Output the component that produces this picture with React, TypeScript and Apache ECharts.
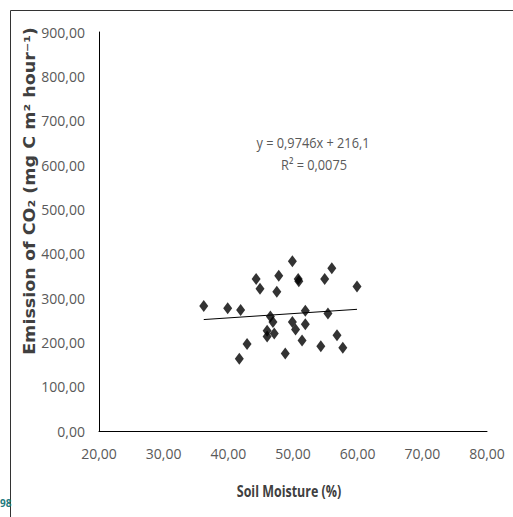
import React, { useEffect, useRef } from "react";
import * as echarts from "echarts";

const soilMoisture = [36.2, 39.9, 41.9, 44.3, 44.9, 47.8, 47.5, 49.9, 50.8, 50.9, 54.9, 56.0, 59.9, 51.9, 55.4, 46.5, 46.9, 49.9, 50.4, 51.9, 46.0, 46.0, 47.1, 51.4, 42.9, 41.7, 48.8, 54.3, 56.8, 57.7];
const co2Emission = [282, 277, 273, 343, 321, 350, 314, 383, 343, 338, 343, 367, 326, 271, 265, 258, 246, 246, 229, 241, 226, 213, 220, 204, 196, 163, 175, 191, 216, 188];
const xTicks = [20, 80, 10];
const yTicks = [0, 900, 100];
const slope = 0.9746;
const intercept = 216.1;
const equationText = "y = 0,9746x + 216,1";
const r2Text = "R² = 0,0075";

const fmt = (v: number) => v.toFixed(2).replace(".", ",");

export default function App() {
  const ref = useRef<HTMLDivElement>(null);
  useEffect(() => {
    if (!ref.current) return;
    const chart = echarts.init(ref.current, null, { renderer: "svg" });
    const pts = soilMoisture.map((x, i) => [x, co2Emission[i]]);
    const xMin = Math.min(...soilMoisture);
    const xMax = Math.max(...soilMoisture);
    const trend = [
      [xMin, slope * xMin + intercept],
      [xMax, slope * xMax + intercept],
    ];
    const font = "'Open Sans', sans-serif";
    chart.setOption({
      animation: false,
      backgroundColor: "#ffffff",
      grid: { left: 99, top: 32, right: 26, bottom: 86, containLabel: false },
      xAxis: {
        type: "value",
        min: xTicks[0],
        max: xTicks[1],
        interval: xTicks[2],
        axisLine: { show: true, lineStyle: { color: "#000", width: 1 } },
        axisTick: { show: false },
        splitLine: { show: false },
        axisLabel: { color: "#595959", fontSize: 14, fontFamily: font, margin: 15, formatter: fmt },
      },
      yAxis: {
        type: "value",
        min: yTicks[0],
        max: yTicks[1],
        interval: yTicks[2],
        axisLine: { show: true, lineStyle: { color: "#000", width: 1 } },
        axisTick: { show: false },
        splitLine: { show: false },
        axisLabel: { color: "#595959", fontSize: 14, fontFamily: font, margin: 14, formatter: fmt },
      },
      series: [
        {
          type: "scatter",
          data: pts,
          symbol: "diamond",
          symbolSize: [9, 12],
          itemStyle: { color: "#000" },
          z: 3,
        },
        {
          type: "line",
          data: trend,
          symbol: "none",
          lineStyle: { color: "#000", width: 1 },
          z: 2,
        },
      ],
      graphic: [
        { type: "line", shape: { x1: 10.5, y1: 10.5, x2: 513, y2: 10.5 }, style: { stroke: "#333", lineWidth: 1 } },
        { type: "line", shape: { x1: 10.5, y1: 10.5, x2: 10.5, y2: 517 }, style: { stroke: "#333", lineWidth: 1 } },
        {
          type: "text",
          x: 313,
          y: 142,
          scaleX: 0.85,
          style: { text: equationText, fill: "#595959", font: `15px ${font}`, align: "center", verticalAlign: "middle" },
        },
        {
          type: "text",
          x: 314,
          y: 164,
          scaleX: 0.85,
          style: { text: r2Text, fill: "#595959", font: `15px ${font}`, align: "center", verticalAlign: "middle" },
        },
        {
          type: "text",
          x: 289,
          y: 491,
          scaleX: 0.78,
          style: { text: "Soil Moisture (%)", fill: "#404040", font: `bold 16px ${font}`, align: "center", verticalAlign: "middle" },
        },
        {
          type: "text",
          x: 30,
          y: 191,
          rotation: Math.PI / 2,
          scaleX: 1.17,
          style: { text: "Emission of CO₂ (mg C m² hour⁻¹)", fill: "#404040", font: "bold 15px 'DejaVu Sans', sans-serif", align: "center", verticalAlign: "middle" },
        },
        {
          type: "text",
          x: 0,
          y: 503,
          style: { text: "98", fill: "#1f7a80", font: "bold 10px 'Open Sans', sans-serif", align: "left", verticalAlign: "middle" },
        },
      ],
    });
    return () => chart.dispose();
  }, []);
  return <div ref={ref} style={{ width: 513, height: 517, position: "absolute", left: 0, top: 0 }} />;
}
